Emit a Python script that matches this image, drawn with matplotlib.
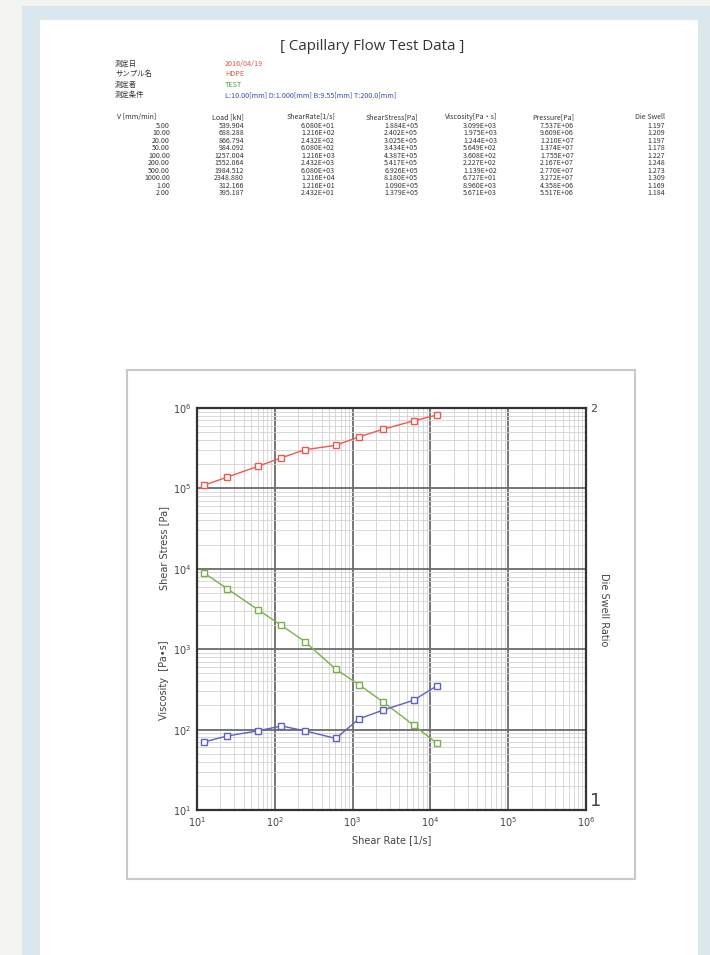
import numpy as np
import matplotlib as mpl
mpl.use('Agg')
import matplotlib.pyplot as plt
from matplotlib.patches import Rectangle
from matplotlib.ticker import LogLocator, NullFormatter

W, H = 710, 955
JP = ['Noto Sans CJK JP', 'DejaVu Sans']

# measurement info
info_keys = ['測定日', 'サンプル名', '測定者', '測定条件']
info_vals = ['2016/04/19', 'HDPE', 'TEST',
             'L:10.00[mm] D:1.000[mm] B:9.55[mm] T:200.0[mm]']
info_cols = ['#e0554a', '#e0554a', '#4d9a3a', '#3a4fb0']

# test results, in run order
col_names = ['V [mm/min]', 'Load [kN]', 'ShearRate[1/s]', 'ShearStress[Pa]',
             'Viscosity[Pa・s]', 'Pressure[Pa]', 'Die Swell']
speed = [5.00, 10.00, 20.00, 50.00, 100.00, 200.00, 500.00, 1000.00, 1.00, 2.00]
load = [539.904, 688.288, 866.794, 984.092, 1257.004, 1552.064, 1984.512,
        2348.880, 312.166, 395.187]
shear_rate = [6.080e1, 1.216e2, 2.432e2, 6.080e2, 1.216e3, 2.432e3, 6.080e3,
              1.216e4, 1.216e1, 2.432e1]
shear_stress = [1.884e5, 2.402e5, 3.025e5, 3.434e5, 4.387e5, 5.417e5, 6.926e5,
                8.180e5, 1.090e5, 1.379e5]
viscosity = [3.099e3, 1.975e3, 1.244e3, 5.649e2, 3.608e2, 2.227e2, 1.139e2,
             6.727e1, 8.960e3, 5.671e3]
pressure = [7.537e6, 9.609e6, 1.210e7, 1.374e7, 1.755e7, 2.167e7, 2.770e7,
            3.272e7, 4.358e6, 5.517e6]
die_swell = [1.197, 1.209, 1.197, 1.178, 1.227, 1.248, 1.273, 1.309, 1.169, 1.184]

x_ticks = [1e1, 1e2, 1e3, 1e4, 1e5, 1e6]
x_ticklabels = ['$10^1$', '$10^2$', '$10^3$', '$10^4$', '$10^5$', '$10^6$']


def fx(px):
    return px / W


def fy(py):
    return 1 - py / H


def sci(v):
    m, e = ('%.3E' % v).split('E')
    return '%sE%s%02d' % (m, e[0], abs(int(e)))


def header(fig):
    fig.text(fx(372), fy(47), '[ Capillary Flow Test Data ]', fontsize=10.8,
             family=['Open Sans', 'DejaVu Sans'], color='#333333',
             ha='center', va='center')
    for i, (k, v, c) in enumerate(zip(info_keys, info_vals, info_cols)):
        y = fy(64 + i * 10.3)
        fig.text(fx(115), y, k, fontsize=5.3, family=JP, color='#333333', va='center')
        fig.text(fx(225), y, v, fontsize=5.2, family=JP, color=c, va='center')

    # table: first column left aligned, the rest right aligned
    right = [None, 244, 335, 418, 497, 574, 665]
    fs = 5.1
    y0, dy = 117, 7.45
    for j, name in enumerate(col_names):
        if j == 0:
            fig.text(fx(117), fy(y0), name, fontsize=fs, family=JP, color='#333333', va='center')
        else:
            fig.text(fx(right[j]), fy(y0), name, fontsize=fs, family=JP, color='#333333',
                     ha='right', va='center')
    for i in range(len(speed)):
        row = ['%.2f' % speed[i], '%.3f' % load[i], sci(shear_rate[i]),
               sci(shear_stress[i]), sci(viscosity[i]), sci(pressure[i]),
               '%.3f' % die_swell[i]]
        y = fy(y0 + 9 + i * dy)
        fig.text(fx(170), y, row[0], fontsize=fs, family=JP, color='#333333',
                 ha='right', va='center')
        for j in range(1, 7):
            fig.text(fx(right[j]), y, row[j], fontsize=fs, family=JP, color='#333333',
                     ha='right', va='center')


def plot():
    fig = plt.figure(figsize=(W / 100, H / 100), dpi=100, facecolor='#f3f3f1')
    # backgrounds: blue panel, white page, chart frame
    fig.add_artist(Rectangle((fx(22), 0), 1, fy(6), transform=fig.transFigure,
                             facecolor='#dce6ed', edgecolor='none', zorder=0))
    fig.add_artist(Rectangle((fx(40), 0), fx(698 - 40), fy(20), transform=fig.transFigure,
                             facecolor='white', edgecolor='none', zorder=0))
    fig.add_artist(Rectangle((fx(127), fy(879)), fx(635 - 127), (879 - 370) / H,
                             transform=fig.transFigure, facecolor='white',
                             edgecolor='#c9c9c9', lw=1.5, zorder=0))

    header(fig)

    ax = fig.add_axes([fx(197), fy(810), fx(586 - 197), (810 - 408) / H])
    ax.set_xscale('log')
    ax.set_yscale('log')
    ax.set_xlim(1e1, 1e6)
    ax.set_ylim(1e1, 1e6)
    ax.set_facecolor('white')
    ax.xaxis.set_minor_locator(LogLocator(base=10, subs=np.arange(2, 10), numticks=20))
    ax.yaxis.set_minor_locator(LogLocator(base=10, subs=np.arange(2, 10), numticks=20))
    ax.xaxis.set_minor_formatter(NullFormatter())
    ax.yaxis.set_minor_formatter(NullFormatter())
    ax.grid(which='minor', color='#d2d2d2', lw=0.6)
    ax.grid(which='major', color='#6b6b6b', lw=1.3)
    ax.set_axisbelow(True)
    ax.tick_params(which='both', length=0, labelsize=7, colors='#444444', pad=4)
    ax.set_xticks(x_ticks)
    ax.set_xticklabels(x_ticklabels)
    ax.set_yticks(x_ticks)
    ax.set_yticklabels(x_ticklabels)
    for s in ax.spines.values():
        s.set_color('#333333')
        s.set_linewidth(1.6)

    order = np.argsort(shear_rate)
    sr = np.array(shear_rate)[order]
    ax.plot(sr, np.array(shear_stress)[order], color='#ec5a4f', lw=1.0, marker='s',
            ms=5, mfc='white', mec='#ec5a4f', mew=1.0)
    ax.plot(sr, np.array(viscosity)[order], color='#78b24a', lw=1.0, marker='s',
            ms=5, mfc='white', mec='#78b24a', mew=1.0)

    ax2 = ax.twinx()
    ax2.set_ylim(1, 2)
    ax2.set_yticks([1, 2])
    ax2.set_yticklabels(['1', '2'])
    ax2.tick_params(length=0, colors='#444444', pad=3)
    lbls = ax2.get_yticklabels()
    lbls[0].set_fontsize(13)
    lbls[0].set_va('bottom')
    lbls[1].set_fontsize(8)
    for s in ax2.spines.values():
        s.set_visible(False)
    ax2.plot(sr, np.array(die_swell)[order], color='#5f5fc8', lw=1.0, marker='s',
             ms=5, mfc='white', mec='#5f5fc8', mew=1.0)

    ax.set_xlabel('Shear Rate [1/s]', fontsize=7, color='#444444', labelpad=4)
    fig.text(fx(164), fy(548), 'Shear Stress [Pa]', rotation=90, fontsize=7,
             color='#444444', ha='center', va='center')
    fig.text(fx(164), fy(680), 'Viscosity  [Pa\u2022s]', rotation=90, fontsize=7,
             color='#444444', ha='center', va='center')
    fig.text(fx(604), fy(610), 'Die Swell Ratio', rotation=-90, fontsize=7,
             color='#444444', ha='center', va='center')

    fig.savefig('out.png', dpi=100, facecolor=fig.get_facecolor())


if __name__ == '__main__':
    plot()
